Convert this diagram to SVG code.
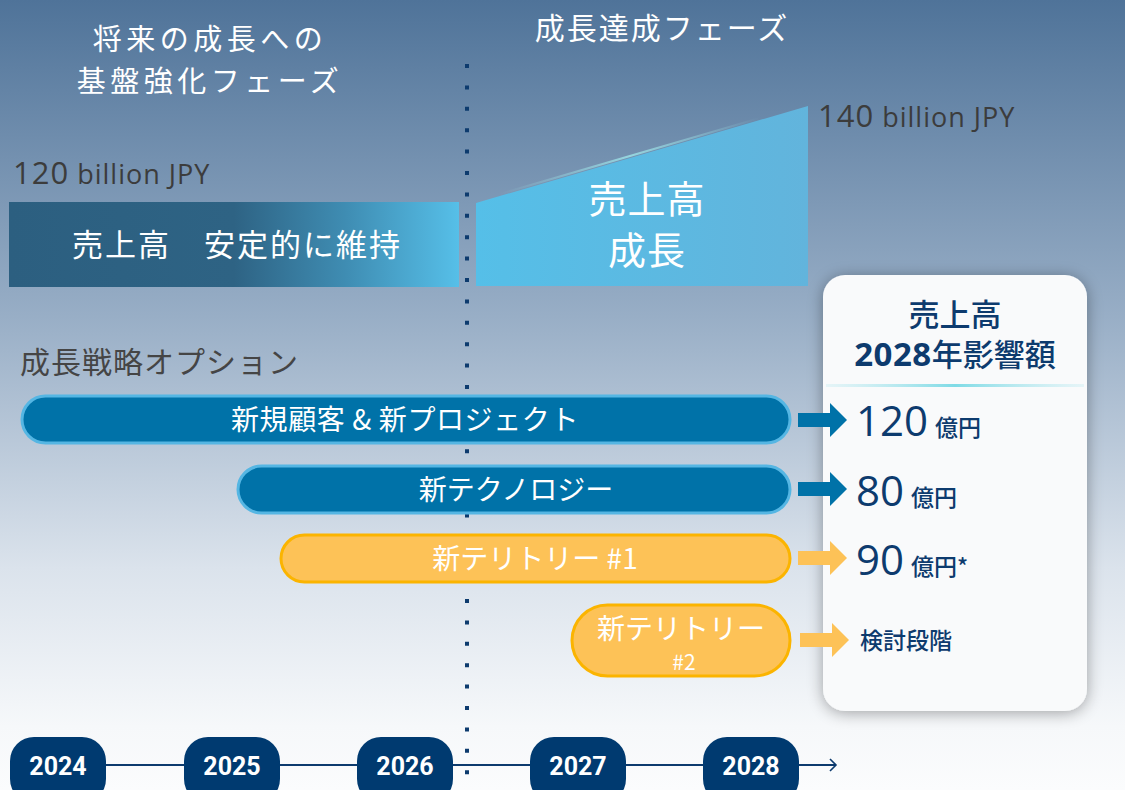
<svg xmlns="http://www.w3.org/2000/svg" width="1125" height="790" viewBox="0 0 1125 790">
<defs>
<linearGradient id="bg" x1="0" y1="0" x2="0" y2="1">
<stop offset="0" stop-color="#4f7399"/>
<stop offset="0.4" stop-color="#98aec6"/>
<stop offset="0.72" stop-color="#dbe3ec"/>
<stop offset="0.92" stop-color="#f6f8fa"/>
<stop offset="1" stop-color="#fbfcfd"/>
</linearGradient>
<linearGradient id="barL" x1="0" y1="0" x2="1" y2="0">
<stop offset="0" stop-color="#2c5f80"/>
<stop offset="0.5" stop-color="#2e6384"/>
<stop offset="0.75" stop-color="#3f8db3"/>
<stop offset="1" stop-color="#56bfe8"/>
</linearGradient>
<linearGradient id="barR" x1="0" y1="0" x2="1" y2="0">
<stop offset="0" stop-color="#55bfe8"/>
<stop offset="1" stop-color="#62b4dc"/>
</linearGradient>
<linearGradient id="hl" x1="0" y1="0" x2="1" y2="0">
<stop offset="0" stop-color="#9ee6ea" stop-opacity="0"/>
<stop offset="0.5" stop-color="#9ee6ea" stop-opacity="0.8"/>
<stop offset="1" stop-color="#9ee6ea" stop-opacity="0"/>
</linearGradient>
<linearGradient id="cardLine" x1="0" y1="0" x2="1" y2="0">
<stop offset="0" stop-color="#b8e8ef" stop-opacity="0.3"/>
<stop offset="0.5" stop-color="#7fdbe6"/>
<stop offset="1" stop-color="#b8e8ef" stop-opacity="0.3"/>
</linearGradient>
<filter id="shadow" x="-20%" y="-10%" width="140%" height="120%">
<feGaussianBlur in="SourceAlpha" stdDeviation="8"/>
<feOffset dx="0" dy="2"/>
<feComponentTransfer><feFuncA type="linear" slope="0.35"/></feComponentTransfer>
<feMerge><feMergeNode/><feMergeNode in="SourceGraphic"/></feMerge>
</filter>
<marker id="openArrow" markerWidth="10" markerHeight="14" refX="8" refY="7" orient="auto" markerUnits="userSpaceOnUse">
<path d="M2,1 L8,7 L2,13" fill="none" stroke="#0d3b6e" stroke-width="1.6"/>
</marker>
<style>
.jp{font-family:"Noto Sans CJK JP","Noto Sans",sans-serif;}
.num{font-family:"Open Sans","Noto Sans",sans-serif;}
.white{fill:#ffffff;}
.pillB{fill:#0072a8;stroke:#55b6e3;stroke-width:3;}
.pillY{fill:#fdc257;stroke:#fbb400;stroke-width:3;}
.arrB{fill:#0072a8;}
.arrY{fill:#fdc257;}
.year{fill:#003a70;}
.yeart{font-family:"Roboto","Noto Sans",sans-serif;font-weight:bold;font-size:25px;fill:#ffffff;text-anchor:middle;}
.val{font-family:"Open Sans","Noto Sans",sans-serif;fill:#0d3b6e;font-size:42px;}
.unit{font-family:"Noto Sans CJK JP",sans-serif;fill:#0d3b6e;font-size:23px;font-weight:500;}
.gray{fill:#3c3c3c;}
</style>
</defs>
<rect width="1125" height="790" fill="url(#bg)"/>

<g id="divider">
<line x1="467" y1="64" x2="467" y2="790" stroke="#0d3b6e" stroke-width="4" stroke-dasharray="4 17.4"/>
</g>

<g id="phase-left">
<text class="jp white" x="210" y="50" font-size="29" letter-spacing="4.5" text-anchor="middle">将来の成長への</text>
<text class="jp white" x="210" y="92" font-size="29" letter-spacing="4.5" text-anchor="middle">基盤強化フェーズ</text>
</g>
<g id="phase-right">
<text class="jp white" x="662" y="39" font-size="30" letter-spacing="2" text-anchor="middle">成長達成フェーズ</text>
</g>

<g id="rev-left">
<text class="num gray" x="13" y="184" font-size="27" letter-spacing="1"><tspan font-size="31">120</tspan> billion JPY</text>
<rect x="9" y="202" width="450" height="85" fill="url(#barL)"/>
<text class="jp white" x="237" y="256" font-size="31" letter-spacing="2" text-anchor="middle">売上高　安定的に維持</text>
</g>

<g id="rev-right">
<polygon points="476,203 808,106 808,286 476,286" fill="url(#barR)"/>
<line x1="500" y1="194" x2="760" y2="118" stroke="url(#hl)" stroke-width="2"/>
<text class="num gray" x="818" y="127" font-size="27" letter-spacing="1"><tspan font-size="31">140</tspan> billion JPY</text>
<text class="jp white" font-size="38" letter-spacing="1" text-anchor="middle"><tspan x="647" y="213">売上高</tspan><tspan x="647" y="264">成長</tspan></text>
</g>

<g id="options-title">
<text class="jp" x="20" y="373" font-size="30" letter-spacing="1" fill="#454545">成長戦略オプション</text>
</g>

<g id="opt1">
<rect class="pillB" x="22" y="396" width="768" height="47" rx="23.5"/>
<text class="jp white" x="405" y="430" font-size="28" letter-spacing="0.6" text-anchor="middle">新規顧客 &amp; 新プロジェクト</text>
</g>
<g id="opt2">
<rect class="pillB" x="238" y="466" width="552" height="47" rx="23.5"/>
<text class="jp white" x="516" y="500" font-size="28" text-anchor="middle">新テクノロジー</text>
</g>
<g id="opt3">
<rect class="pillY" x="281" y="535" width="509" height="47" rx="23.5"/>
<text class="jp white" x="535" y="569" font-size="28" text-anchor="middle">新テリトリー #1</text>
</g>
<g id="opt4">
<rect class="pillY" x="572" y="605" width="218" height="71" rx="35.5"/>
<text class="jp white" text-anchor="middle"><tspan x="681" y="639" font-size="28">新テリトリー</tspan><tspan x="684" y="670" font-size="21">#2</tspan></text>
</g>

<g id="card">
<rect x="823" y="275" width="264" height="436" rx="22" fill="#f9fafb" filter="url(#shadow)"/>
<text fill="#0d3b6e" text-anchor="middle" font-size="31"><tspan class="jp" x="955" y="326" font-weight="500">売上高</tspan><tspan x="955" y="366" class="num" font-size="33" font-weight="bold" letter-spacing="0.5">2028</tspan><tspan class="jp" font-weight="500">年影響額</tspan></text>
<rect x="826" y="384" width="258" height="3" fill="url(#cardLine)"/>
<text x="856" y="436"><tspan class="val">120</tspan><tspan class="unit" dx="7">億円</tspan></text>
<text x="856" y="506"><tspan class="val">80</tspan><tspan class="unit" dx="7">億円</tspan></text>
<text x="856" y="575"><tspan class="val">90</tspan><tspan class="unit" dx="7">億円*</tspan></text>
<text class="unit" x="860" y="649" font-size="22">検討段階</text>
</g>

<g id="connectors">
<polygon class="arrB" points="798,413 830,413 830,403 847,420 830,437 830,427 798,427"/>
<polygon class="arrB" points="798,482 830,482 830,472 847,489 830,506 830,496 798,496"/>
<polygon class="arrY" points="798,551 830,551 830,541 847,558 830,575 830,565 798,565"/>
<polygon class="arrY" points="800,633 832,633 832,623 849,640 832,657 832,647 800,647"/>
<line x1="100" y1="765" x2="836" y2="765" stroke="#0d3b6e" stroke-width="2" marker-end="url(#openArrow)"/>
</g>

<g id="y2024"><rect class="year" x="10" y="737" width="96" height="66" rx="24"/><text class="yeart" x="58" y="775">2024</text></g>
<g id="y2025"><rect class="year" x="184" y="737" width="96" height="66" rx="24"/><text class="yeart" x="232" y="775">2025</text></g>
<g id="y2026"><rect class="year" x="357" y="737" width="96" height="66" rx="24"/><text class="yeart" x="405" y="775">2026</text></g>
<g id="y2027"><rect class="year" x="530" y="737" width="96" height="66" rx="24"/><text class="yeart" x="578" y="775">2027</text></g>
<g id="y2028"><rect class="year" x="703" y="737" width="96" height="66" rx="24"/><text class="yeart" x="751" y="775">2028</text></g>
</svg>
